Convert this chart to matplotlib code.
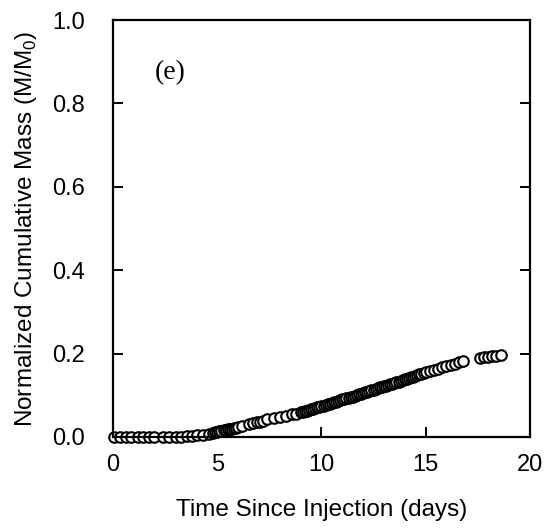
import matplotlib
matplotlib.use("Agg")
import matplotlib.pyplot as plt

plt.rcParams['font.family'] = ['Liberation Sans', 'DejaVu Sans']
plt.rcParams['mathtext.fontset'] = 'custom'
plt.rcParams['mathtext.rm'] = 'Liberation Sans'

time_days = [0.05, 0.35, 0.6, 0.85, 1.2, 1.45, 1.7, 1.95, 2.4, 2.7, 3.0, 3.25,
             3.55, 3.8, 4.05, 4.3, 4.6, 4.8, 4.9, 5.0, 5.1, 5.2, 5.3, 5.4, 5.5,
             5.6, 5.7, 5.8, 5.9, 6.0, 6.2, 6.5, 6.7, 6.9, 7.05, 7.2, 7.4, 7.7,
             8.0, 8.3, 8.6, 8.8, 9.0, 9.1, 9.2, 9.3, 9.4, 9.5, 9.6, 9.7, 9.8,
             9.9, 10.0, 10.1, 10.2, 10.3, 10.4, 10.5, 10.6, 10.7, 10.8, 10.9,
             11.0, 11.1, 11.2, 11.3, 11.4, 11.5, 11.6, 11.7, 11.8, 11.9, 12.0,
             12.1, 12.2, 12.3, 12.4, 12.5, 12.6, 12.7, 12.8, 12.9, 13.0, 13.1,
             13.2, 13.3, 13.4, 13.5, 13.6, 13.7, 13.8, 13.9, 14.0, 14.1, 14.2,
             14.3, 14.4, 14.5, 14.6, 14.7, 14.8, 14.9, 15.0, 15.2, 15.4, 15.6,
             15.8, 16.0, 16.2, 16.4, 16.6, 16.8, 17.6, 17.8, 18.0, 18.2, 18.4,
             18.6]
mass_frac = [0.0, 0.0, 0.0, 0.0, 0.0, 0.0, 0.0, 0.0, 0.0, 0.0, 0.001, 0.001,
             0.002, 0.003, 0.004, 0.005, 0.007, 0.010, 0.011, 0.013, 0.014,
             0.015, 0.016, 0.017, 0.018, 0.019, 0.020, 0.021, 0.022, 0.024,
             0.026, 0.030, 0.033, 0.035, 0.037, 0.039, 0.042, 0.045, 0.048,
             0.051, 0.054, 0.056, 0.059, 0.060, 0.062, 0.063, 0.065, 0.066,
             0.068, 0.069, 0.071, 0.072, 0.074, 0.075, 0.077, 0.078, 0.080,
             0.081, 0.083, 0.085, 0.086, 0.088, 0.090, 0.091, 0.093, 0.094,
             0.096, 0.097, 0.099, 0.100, 0.102, 0.104, 0.106, 0.107, 0.109,
             0.110, 0.112, 0.113, 0.115, 0.117, 0.119, 0.120, 0.122, 0.123,
             0.125, 0.126, 0.128, 0.130, 0.132, 0.133, 0.135, 0.136, 0.138,
             0.140, 0.142, 0.143, 0.145, 0.147, 0.149, 0.150, 0.152, 0.153,
             0.155, 0.158, 0.161, 0.164, 0.167, 0.170, 0.173, 0.176, 0.179,
             0.183, 0.189, 0.191, 0.193, 0.194, 0.195, 0.196]

x_ticks = [0, 5, 10, 15, 20]
y_ticks = [0.0, 0.2, 0.4, 0.6, 0.8, 1.0]
y_tick_labels = ['0.0', '0.2', '0.4', '0.6', '0.8', '1.0']

fig = plt.figure(figsize=(5.49, 5.29), dpi=100)
ax = fig.add_axes([0.206, 0.174, 0.759, 0.788])

ax.plot(time_days, mass_frac, linestyle='none', marker='o', markersize=7.6,
        markerfacecolor='white', markeredgecolor='black', markeredgewidth=1.5,
        clip_on=False)

ax.set_xlim(0, 20)
ax.set_ylim(0, 1.0)
ax.set_xticks(x_ticks)
ax.set_yticks(y_ticks)
ax.set_yticklabels(y_tick_labels)

for s in ax.spines.values():
    s.set_linewidth(1.6)

ax.tick_params(axis='both', direction='in', length=7, width=1.4, labelsize=17)
ax.tick_params(axis='y', right=True, pad=20)
ax.tick_params(axis='x', top=False, pad=12)

ax.set_xlabel('Time Since Injection (days)', fontsize=17.5, labelpad=17)
ax.set_ylabel('Normalized Cumulative Mass (M/M$_0$)', fontsize=17.5, labelpad=10)

ax.text(2.0, 0.875, '(e)', family='Liberation Serif', fontsize=20,
        ha='left', va='center')

fig.savefig('out.png', dpi=100)
